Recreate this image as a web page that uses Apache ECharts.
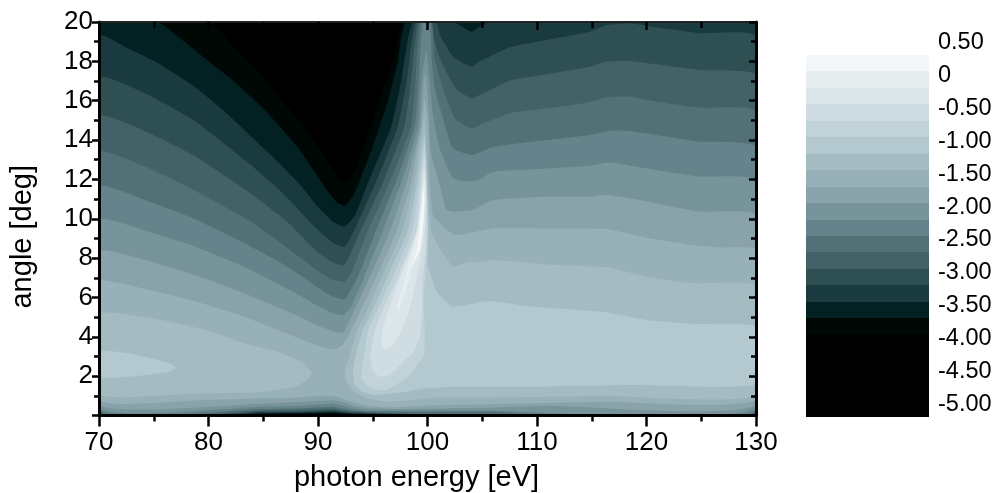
<!DOCTYPE html>
<html><head><meta charset="utf-8">
<style>html,body{margin:0;padding:0;background:#fff}#c{width:997px;height:493px}</style>
<script src="https://cdn.jsdelivr.net/npm/echarts@6/dist/echarts.min.js"></script>
</head><body><div id="c"></div>
<script>
const levels = [-4,-3.75,-3.5,-3.25,-3,-2.75,-2.5,-2.25,-2,-1.75,-1.5,-1.25,-1,-0.75,-0.5,-0.25,0];
const bandColors = ['#000806','#032023','#193a3e','#2f5053','#426267','#527076','#65838a','#77949a','#8aa3ab','#98b0b7','#a4bbc2','#b4c8cf','#c2d2d9','#cfdde3','#dbe6ea','#e6edef','#f3f7fa'];
const scaleTop = 0.25, scaleBottom = -5.25, belowColor = '#000000';
const xTicks = [70,80,90,100,110,120,130];
const yTicks = [2,4,6,8,10,12,14,16,18,20];

// Contour outlines: [photon energy, angle] pairs, region above the level
const cM400 = [[70,.03],[130,.03],[130,20],[97.8,20],[97,18.3],[95.94,16.6],[94.87,14.8],[93.7,12.9],[93,12.1],[92.44,11.9],[91.8,12.1],[90.3,13.4],[88.33,14.94],[86.65,16.04],[84.8,17.3],[82.4,18.66],[80.1,20],[70,20]];
const cM375 = [[70,.07],[85,.08],[91.37,.12],[92.2,.09],[93.3,.05],[130,.05],[130,20],[98.13,20],[97.3,18],[96.4,16],[95.7,14.8],[94.9,13.5],[94,12.2],[93.2,11.15],[92.44,10.67],[91.8,10.8],[90.9,11.38],[89.69,12.39],[88.33,13.5],[86.65,14.6],[84.82,15.7],[82.39,16.95],[80.25,17.9],[78.73,18.58],[77.2,19.26],[75.4,20],[70,20]];
const cM350 = [[70,.11],[85,.12],[88.33,.13],[91.37,.17],[92.2,.13],[93.3,.09],[130,.09],[130,20],[105.6,20],[104,19.51],[102.4,20],[98.67,20],[97.6,17],[96.7,14.7],[94.7,12],[93.4,10.2],[92.44,9.6],[91.37,9.85],[89.85,10.7],[88.33,11.75],[86.5,12.8],[84.82,13.7],[81.78,15.3],[78.73,16.72],[75.69,17.82],[72.64,18.66],[70,19.31]];
const cM325 = [[70,.15],[85,.16],[88.33,.17],[91.37,.22],[92.2,.17],[93.3,.12],[130,.12],[130,19.26],[124.86,19.43],[120.9,19.73],[118.47,19.94],[116.34,19.85],[114.82,19.51],[110.86,19.09],[107.51,18.72],[104.77,17.99],[104,17.73],[102.33,18.24],[101.12,19.34],[100.8,20],[98.92,20],[98.1,17],[97.3,14.7],[95.4,12],[93.3,9.4],[92.44,8.58],[91.37,8.78],[89.85,9.5],[88.33,10.4],[86.3,11.55],[83.3,13],[78.7,15],[74.2,16.38],[70,17.17]];
const cM300 = [[70,.19],[85,.2],[88.33,.22],[91.37,.28],[92.2,.22],[93.3,.16],[94.5,.13],[130,.15],[130,17.27],[124.86,17.56],[120.9,17.85],[118.47,18.02],[116.34,17.99],[114.82,17.73],[110.86,17.34],[107.51,17.02],[104.77,16.29],[104,16.12],[102.64,16.6],[102.03,17.14],[101.12,18.16],[100.5,19.34],[100.3,20],[99.13,20],[98.5,17],[97.9,14.7],[96.05,12],[93.9,9.4],[92.44,7.65],[91.37,7.78],[89.85,8.35],[88.33,9.2],[87.1,9.9],[83.3,11.5],[78.7,13.2],[74.2,14.45],[70,15.2]];
const cM275 = [[70,.24],[85,.26],[88.33,.29],[91.37,.36],[92.2,.28],[93.3,.2],[94.5,.16],[130,.2],[130,15.44],[124.86,15.65],[120.9,15.95],[118.47,16.21],[116.34,16.17],[114.82,15.92],[110.86,15.61],[107.51,15.36],[104.77,14.77],[104,14.6],[102.49,15.1],[101.42,16.63],[100.66,18.16],[100.4,20],[99.35,20],[98.9,17],[98.5,14.7],[96.65,12],[94.56,9.4],[93.1,7.3],[92.44,6.8],[91.37,6.9],[89.85,7.4],[88.33,8.05],[86.3,8.9],[83.9,9.85],[78.7,11.45],[74.2,12.65],[70,13.38]];
const cM250 = [[70,.3],[85,.33],[88.33,.37],[91.37,.45],[92.2,.36],[93.3,.25],[94.5,.2],[104.77,.19],[130,.27],[130,13.63],[124.86,13.92],[120.9,14.26],[118.47,14.46],[116.95,14.5],[114.82,14.26],[110.86,14],[105.99,13.66],[104.77,13.38],[104,13.24],[102.33,13.58],[101.42,15.1],[100.66,16.63],[100.4,18],[100.2,20],[99.55,20],[99.2,17],[98.83,14.7],[97.2,12],[95.3,9.4],[93.6,7],[92.44,5.92],[91.37,6.05],[89.85,6.55],[88.33,7.15],[86.3,7.85],[83.3,8.75],[78.7,10],[74.2,10.95],[70,11.63]];
const cM225 = [[70,.4],[85,.45],[88.33,.5],[91.37,.6],[92.2,.5],[93.3,.34],[94.5,.27],[98.4,.25],[104.77,.27],[130,.39],[130,11.94],[124.86,12.14],[120.9,12.48],[118.47,12.7],[116.6,12.87],[114.82,12.7],[110.86,12.56],[105.99,12.39],[104.77,12],[104,11.89],[102.33,12.05],[101.12,13.58],[100.5,15.28],[100.2,17],[99.89,18.5],[99.45,17],[99.13,14.7],[97.7,12],[95.93,9.4],[94.2,7],[93,5.5],[92.3,5.1],[91.37,5.2],[89.85,5.6],[88.33,6.1],[86.3,6.7],[83.3,7.55],[78.7,8.6],[74.2,9.4],[70,9.94]];
const cM200 = [[70,.56],[85,.6],[88.33,.68],[91.37,.78],[92.2,.68],[93.3,.48],[94.5,.36],[98.4,.33],[104.77,.39],[110.86,.5],[130,.56],[130,10.19],[124.86,10.36],[120.9,10.78],[118.47,11.04],[116.34,11.21],[114.82,11.12],[110.86,11.12],[105.99,10.95],[104.77,10.61],[104,10.44],[102.64,10.36],[101.72,10.45],[101.12,11.72],[100.35,13.24],[100.1,15.5],[99.85,17.4],[99.65,17],[99.34,14.7],[98.15,12],[96.6,9.4],[94.7,7],[93.1,5.1],[92.3,4.22],[91.37,4.28],[89.85,4.6],[88.33,5.02],[86.3,5.5],[83.3,6.2],[78.7,7.15],[74.2,7.9],[70,8.33]];
const cM175 = [[70,.78],[80,.8],[88.33,.92],[90,1],[91.37,1],[92.2,.85],[93.3,.65],[94.5,.5],[96.2,.42],[98.4,.45],[100.5,.52],[104.77,.56],[116,.7],[130,.82],[130,8.41],[126.7,8.53],[124.25,8.66],[120,9.04],[116.34,9.48],[110.55,9.51],[105.99,9.51],[104.77,9.38],[102.49,9.17],[101.42,9.6],[100.5,10.19],[100.2,12],[100.05,14.7],[99.75,16.1],[99.45,14.7],[98.55,12],[97.2,9.4],[95.3,7],[93.7,5.1],[92.8,4.1],[92.2,3.55],[91.37,3.36],[89.85,3.58],[88.33,3.9],[86.3,4.34],[83.3,5.02],[78.7,5.82],[74.2,6.43],[70,6.8]];
const cM150a = [[70,1.07],[78.7,1.12],[84.8,1.2],[87.9,1.46],[89.2,1.9],[89.4,2.22],[88.5,2.73],[86.3,3.24],[83.3,3.66],[80.3,4.26],[75.7,4.85],[70,5.17]];
const cM150b = [[92.44,2.22],[92.59,1.72],[93.35,1.2],[94.42,.9],[96.24,.7],[98.38,.78],[100.5,.9],[104.77,.9],[116,.99],[130,1.04],[130,6.58],[124.25,6.72],[120,7.05],[116.34,7.53],[110.86,7.68],[105.99,7.9],[104.77,7.78],[103.7,7.82],[102.33,7.56],[101.12,8.5],[100.35,9.34],[100.1,11],[99.95,13],[99.7,15.3],[99.6,14.7],[98.85,12],[97.7,9.4],[95.8,7],[94.3,5.1],[93.6,4.35],[92.9,3.1]];
const cM125a = [[70,1.92],[71.7,1.93],[74.2,2.05],[76.45,2.22],[77,2.43],[76.45,2.65],[74.8,2.9],[72.6,3.16],[70,3.27]];
const cM125b = [[93.2,2.22],[93.35,1.55],[94.11,1.2],[95.33,1.05],[97.46,1.15],[99.9,1.38],[102.33,1.46],[104.77,1.46],[109.3,1.46],[118.5,1.55],[130,1.6],[130,4.51],[124.25,4.65],[120,4.85],[116.03,5.27],[109.64,5.53],[105.7,5.82],[104.77,5.75],[102.33,5.53],[100.96,6.2],[100.5,6.8],[100.05,7.65],[100,10],[99.9,12],[99.75,14.3],[99.1,12],[98.2,9.4],[96.3,7],[94.8,5.1],[94.1,4.35],[93.45,3.1]];
const cM100 = [[94.11,2.73],[93.96,1.88],[94.87,1.38],[96.24,1.29],[98.38,2.05],[99.65,3.07],[99.75,4.26],[99.65,5.78],[99.84,7.48],[100.05,9.17],[100,11],[99.75,13.8],[99.3,12],[98.6,9.4],[96.8,7],[95.2,5.1],[94.6,4.35]];
const cM075 = [[94.78,2.9],[95,2.31],[95.64,1.97],[96.4,2.05],[97,2.3],[98,2.85],[98.7,3.2],[99.3,4],[99.5,5.3],[99.55,6.8],[99.84,8.5],[99.9,10],[99.9,12],[99.72,13.2],[99.45,12],[98.95,9.4],[97.25,7],[95.7,5.1],[95.2,4.35]];
const cM050 = [[96.09,3.33],[96.6,3.45],[97.3,4],[98.2,5.1],[98.8,6.4],[99.3,7.8],[99.7,9.2],[99.85,11],[99.7,12.6],[99.55,12],[99.1,9.4],[97.5,7],[96.4,5.3],[95.9,4.35],[95.75,3.8]];
const cM025 = [[97.3,5.36],[97.5,5.45],[98.1,6.5],[98.6,7.5],[99.1,8.2],[99.4,9],[99.65,10],[99.8,11],[99.75,12.1],[99.55,11.5],[99.35,10.5],[99.1,9.4],[98.7,8.6],[98.2,7.6],[97.8,6.6],[97.2,5.6]];
const c000 = [[98.7,7.7],[99.1,8.6],[99.25,9.4],[99.45,10.5],[99.65,11.6],[99.7,10.5],[99.55,9.4],[99.3,8.4]];

const regions = [
  [-4,cM400],[-3.75,cM375],[-3.5,cM350],[-3.25,cM325],[-3,cM300],[-2.75,cM275],[-2.5,cM250],[-2.25,cM225],
  [-2,cM200],[-1.75,cM175],[-1.5,cM150a],[-1.5,cM150b],[-1.25,cM125a],[-1.25,cM125b],[-1,cM100],[-0.75,cM075],[-0.5,cM050],[-0.25,cM025],[0,c000]
];
const colorOf = v => bandColors[levels.indexOf(v)];
const font = 'Liberation Sans';
const chart = echarts.init(document.getElementById('c'), null, {renderer:'canvas'});
const black = '#000';
function mainX(pos, show){
  return {type:'value',gridIndex:0,position:pos,min:70,max:130,interval:10,z:10,
    name:show?'photon energy [eV]':'',nameLocation:'middle',nameGap:48,
    nameTextStyle:{fontFamily:font,fontSize:29,color:black,padding:[0,22,0,0]},
    axisLine:{show:true,onZero:false,lineStyle:{color:show?black:'#222',width:show?3:2}},
    axisTick:{show:true,inside:!show,length:show?11:8,lineStyle:{color:black,width:2.5}},
    minorTick:{show:true,splitNumber:2,length:6,lineStyle:{color:black,width:2.5}},
    splitLine:{show:false},minorSplitLine:{show:false},
    axisLabel:{show:show,fontFamily:font,fontSize:26,color:black,margin:14,customValues:xTicks}};
}
function mainY(pos, show){
  return {type:'value',gridIndex:0,position:pos,min:0,max:20,interval:2,z:10,
    name:show?'angle [deg]':'',nameLocation:'middle',nameGap:62,
    nameTextStyle:{fontFamily:font,fontSize:29,color:black,padding:[0,36,0,0]},
    axisLine:{show:true,onZero:false,lineStyle:{color:black,width:3}},
    axisTick:{show:true,inside:!show,length:7,lineStyle:{color:black,width:2.5}},
    minorTick:{show:true,splitNumber:2,length:5,lineStyle:{color:black,width:2.5}},
    splitLine:{show:false},minorSplitLine:{show:false},
    axisLabel:{show:show,fontFamily:font,fontSize:26,color:black,margin:6,padding:[3,0,0,0],
      formatter:v=>yTicks.includes(v)?String(v):''}};
}
chart.setOption({
  animation:false,backgroundColor:'#fff',
  grid:[{left:99,top:22,width:657,height:393.5,backgroundColor:belowColor,show:true,borderWidth:0,outerBoundsMode:'none',containLabel:false},
        {left:806,top:42.5,width:123,height:395,outerBoundsMode:'none',containLabel:false}],
  xAxis:[mainX('bottom',true),mainX('top',false),
    {type:'value',gridIndex:1,min:0,max:1,show:false}],
  yAxis:[mainY('left',true),mainY('right',false),
    {type:'value',gridIndex:1,min:-5.5,max:0.5,interval:0.5,position:'right',
     axisLine:{show:false},axisTick:{show:false},splitLine:{show:false},
     axisLabel:{fontFamily:font,fontSize:23.5,color:black,margin:9,
       formatter:v=>{ if(v<-5.25) return ''; return Math.abs(v)<1e-9?'0':v.toFixed(2);} }}],
  series:[
   {type:'custom',xAxisIndex:0,yAxisIndex:0,clip:true,silent:true,z:2,
    data:regions.map((r,i)=>[70,0,i]),encode:{x:0,y:1},
    renderItem:(p,api)=>{
      const r=regions[api.value(2)];
      return {type:'polygon',shape:{points:r[1].map(q=>api.coord(q)),smooth:0.15},style:{fill:colorOf(r[0])}};
    }},
   {type:'custom',xAxisIndex:2,yAxisIndex:2,silent:true,clip:false,z:2,
    data:levels.map((l,i)=>[0,l,i]).concat([[0,scaleBottom,-1]]),encode:{x:0,y:1},
    renderItem:(p,api)=>{
      const i=api.value(2);
      const lo=i<0?scaleBottom:levels[i], hi=i<0?levels[0]:(i+1<levels.length?levels[i+1]:scaleTop);
      const a=api.coord([0,hi]), b=api.coord([1,lo]);
      const top=Math.round(a[1])-4, bot=Math.round(b[1])-4;
      return {type:'rect',shape:{x:a[0],y:top,width:b[0]-a[0],height:bot-top},style:{fill:i<0?belowColor:bandColors[i]}};
    }}
  ]
});
</script></body></html>
